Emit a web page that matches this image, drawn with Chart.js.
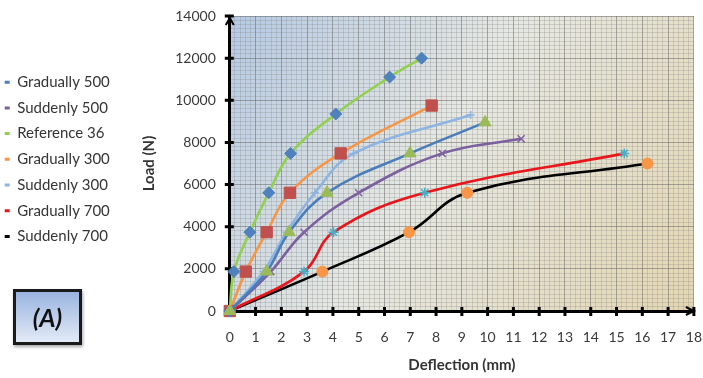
<!DOCTYPE html>
<html>
<head>
<meta charset="utf-8">
<title>Load - Deflection (A)</title>
<script src="https://cdn.jsdelivr.net/npm/chart.js@4.4.1/dist/chart.umd.min.js"></script>
<style>
	html, body { margin: 0; padding: 0; background: #fff; }
	#wrap { position: relative; width: 703px; height: 378px; }
	#chart { position: absolute; left: 0; top: 0; }
	#tag {
		position: absolute; left: 13px; top: 289px; width: 63px; height: 50px;
		border: 3px solid #1a1a1a;
		background: linear-gradient( #9ab4e0, #e2eaf6 );
		box-shadow: 1px 2px 3px rgba( 0, 0, 0, 0.35 );
		font: italic bold 25px Lato, sans-serif; color: #111;
		display: flex; align-items: center; justify-content: center;
	}
</style>
</head>
<body>
<div id="wrap">
	<canvas id="chart" width="703" height="378"></canvas>
	<div id="tag">(A)</div>
</div>
<script>
( function() {
	'use strict';

	var seriesNames = [ 'Gradually 500', 'Suddenly 500', 'Reference 36', 'Gradually 300', 'Suddenly 300', 'Gradually 700', 'Suddenly 700' ];

	// deflection (mm) / load (N)
	var grad500X = [ 0, 1.43, 2.3, 3.77, 6.99, 9.9 ];
	var grad500Y = [ 0, 1870, 3740, 5610, 7480, 8950 ];
	var sudd500X = [ 0, 1.59, 2.88, 5.0, 8.24, 11.3 ];
	var sudd500Y = [ 0, 1870, 3740, 5610, 7480, 8170 ];
	var ref36X = [ 0, 0.16, 0.78, 1.51, 2.36, 4.11, 6.2, 7.44 ];
	var ref36Y = [ 0, 1870, 3740, 5610, 7480, 9350, 11100, 12000 ];
	var grad300X = [ 0, 0.62, 1.43, 2.33, 4.3, 7.83 ];
	var grad300Y = [ 0, 1870, 3740, 5610, 7480, 9750 ];
	var sudd300X = [ 0, 1.3, 2.2, 3.3, 4.8, 9.34 ];
	var sudd300Y = [ 0, 1870, 3740, 5610, 7480, 9300 ];
	var grad700X = [ 0, 2.88, 4.02, 7.56, 15.3 ];
	var grad700Y = [ 0, 1870, 3740, 5610, 7480 ];
	var sudd700X = [ 0, 3.59, 6.95, 9.21, 16.2 ];
	var sudd700Y = [ 0, 1870, 3740, 5610, 7000 ];

	var xTicks = [ 0, 1, 2, 3, 4, 5, 6, 7, 8, 9, 10, 11, 12, 13, 14, 15, 16, 17, 18 ];
	var yTicks = [ 0, 2000, 4000, 6000, 8000, 10000, 12000, 14000 ];

	var lineColors = [ '#4a7ebb', '#7b5f9f', '#92d050', '#f79646', '#8db4e2', '#e8151a', '#000000' ];
	var markerColors = [ '#9bbb59', '#8064a2', '#4f81bd', '#c0504d', '#8db4e2', '#4bacc6', '#f79646' ];
	var markerStyles = [ 'triangle', 'crossRot', 'rectRot', 'rect', 'cross', 'star', 'circle' ];
	var markerSizes = [ 7, 5, 6, 8, 4, 5, 5.5 ];

	var xs = [ grad500X, sudd500X, ref36X, grad300X, sudd300X, grad700X, sudd700X ];
	var ys = [ grad500Y, sudd500Y, ref36Y, grad300Y, sudd300Y, grad700Y, sudd700Y ];

	function toPoints( x, y ) {
		return x.map( function( v, i ) {
			return { x: v, y: y[ i ] };
		} );
	}

	function isOn( list, v ) {
		return list.some( function( t ) {
			return Math.abs( t - v ) < 1e-6;
		} );
	}

	var datasets = seriesNames.map( function( name, i ) {
		var stroked = markerStyles[ i ] === 'crossRot' || markerStyles[ i ] === 'star' || markerStyles[ i ] === 'cross';
		return {
			label: name,
			data: toPoints( xs[ i ], ys[ i ] ),
			borderColor: lineColors[ i ],
			backgroundColor: lineColors[ i ],
			borderWidth: 2.6,
			tension: 0.4,
			pointStyle: markerStyles[ i ],
			pointRadius: markerSizes[ i ],
			pointBackgroundColor: markerColors[ i ],
			pointBorderColor: markerColors[ i ],
			pointBorderWidth: stroked ? 1.5 : 1,
			clip: false
		};
	} );

	var MAJOR = 'rgba(105, 105, 105, 0.55)';
	var MINOR = 'rgba(140, 140, 140, 0.3)';

	var decor = {
		id: 'decor',
		beforeDraw: function( chart ) {
			var a = chart.chartArea;
			var ctx = chart.ctx;
			var g = ctx.createLinearGradient( a.left, a.top, a.right, a.bottom );
			g.addColorStop( 0, '#b4c9e4' );
			g.addColorStop( 0.45, '#e6e8e2' );
			g.addColorStop( 1, '#e4d6b0' );
			ctx.save();
			ctx.fillStyle = g;
			ctx.fillRect( a.left, a.top, a.right - a.left, a.bottom - a.top );
			ctx.restore();
		},
		beforeDatasetsDraw: function( chart ) {
			var ctx = chart.ctx;
			var xs = chart.scales.x;
			var ys = chart.scales.y;
			var ax = xs.getPixelForValue( 0 );
			var ay = ys.getPixelForValue( 0 );
			var top = ys.getPixelForValue( 14000 );
			var right = xs.getPixelForValue( 18 );

			ctx.save();
			ctx.strokeStyle = '#000';
			ctx.lineWidth = 3;
			ctx.beginPath();
			xTicks.forEach( function( v ) {
				var px = xs.getPixelForValue( v );
				ctx.moveTo( px, ay - 4 );
				ctx.lineTo( px, ay + 5 );
			} );
			yTicks.forEach( function( v ) {
				var py = ys.getPixelForValue( v );
				ctx.moveTo( ax - 5, py );
				ctx.lineTo( ax + 4, py );
			} );
			ctx.stroke();

			// arrow heads
			ctx.lineWidth = 2;
			ctx.beginPath();
			ctx.moveTo( ax - 4, top + 9 );
			ctx.lineTo( ax, top + 2 );
			ctx.lineTo( ax + 4, top + 9 );
			ctx.moveTo( right - 8, ay - 4 );
			ctx.lineTo( right, ay );
			ctx.lineTo( right - 8, ay + 4 );
			ctx.stroke();
			ctx.restore();
		}
	};

	new Chart( document.getElementById( 'chart' ), {
		type: 'line',
		data: { datasets: datasets },
		plugins: [ decor ],
		options: {
			responsive: false,
			animation: false,
			layout: { padding: { left: -6, top: 16, right: 9, bottom: 0 } },
			plugins: {
				tooltip: { enabled: false },
				legend: {
					position: 'left',
					align: 'start',
					title: { display: true, text: ' ', font: { size: 10 }, padding: { top: 36, bottom: 0 } },
					labels: {
						boxWidth: 5,
						boxHeight: 3,
						padding: 10.7,
						color: '#353535',
						font: { family: 'Lato', size: 15 },
						generateLabels: function( chart ) {
							var items = Chart.defaults.plugins.legend.labels.generateLabels( chart );
							items.forEach( function( it ) {
								it.lineWidth = 0;
								it.strokeStyle = it.fillStyle;
							} );
							return items;
						}
					}
				}
			},
			scales: {
				x: {
					type: 'linear',
					min: 0,
					max: 18,
					afterFit: function( scale ) {
						scale.height = 67;
					},
					ticks: {
						stepSize: 0.2,
						autoSkip: false,
						maxRotation: 0,
						padding: 1,
						color: '#3a3a3a',
						font: { family: 'Lato', size: 14 },
						callback: function( v ) {
							return isOn( xTicks, v ) ? String( Math.round( v ) ) : '';
						}
					},
					grid: {
						drawTicks: true,
						tickLength: 17,
						tickColor: 'transparent',
						color: function( c ) {
							return c.tick && isOn( xTicks, c.tick.value ) ? MAJOR : MINOR;
						}
					},
					border: { color: '#000', width: 3 },
					title: {
						display: true,
						text: 'Deflection (mm)',
						color: '#333',
						font: { family: 'Lato', size: 15, weight: 'bold' },
						padding: { top: 4, bottom: 4 }
					}
				},
				y: {
					type: 'linear',
					min: 0,
					max: 14000,
					afterFit: function( scale ) {
						scale.width = 110;
					},
					ticks: {
						stepSize: 200,
						autoSkip: false,
						padding: 0,
						color: '#3a3a3a',
						font: { family: 'Lato', size: 14 },
						callback: function( v ) {
							return isOn( yTicks, v ) ? String( Math.round( v ) ) : '';
						}
					},
					grid: {
						drawTicks: true,
						tickLength: 14,
						tickColor: 'transparent',
						color: function( c ) {
							return c.tick && isOn( yTicks, c.tick.value ) ? MAJOR : MINOR;
						}
					},
					border: { color: '#000', width: 3 },
					title: {
						display: true,
						text: 'Load (N)',
						color: '#333',
						font: { family: 'Lato', size: 15, weight: 'bold' },
						padding: { top: 20, bottom: 0 }
					}
				}
			}
		}
	} );
} )();
</script>
</body>
</html>
